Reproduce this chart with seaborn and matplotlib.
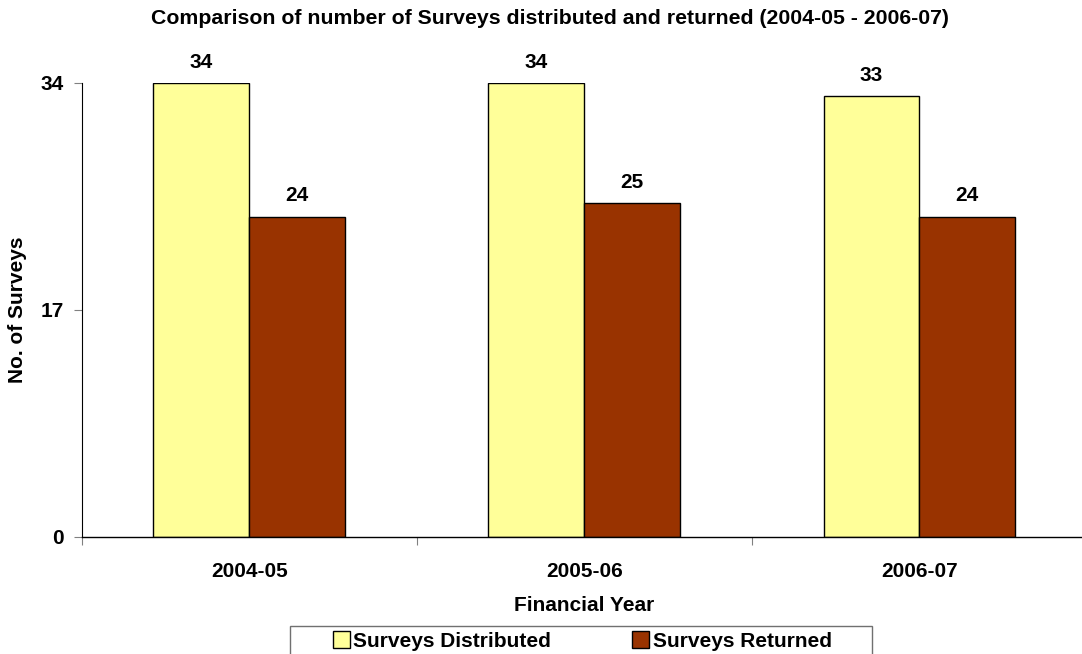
import matplotlib
matplotlib.use("Agg")
import matplotlib.pyplot as plt
from matplotlib.ticker import FixedLocator
from matplotlib.patches import Rectangle
import seaborn as sns
import pandas as pd

years = ["2004-05", "2005-06", "2006-07"]
distributed = [34, 34, 33]
returned = [24, 25, 24]
series_names = ["Surveys Distributed", "Surveys Returned"]
colors = ["#FFFF99", "#993300"]

df = pd.DataFrame({
    "Financial Year": years * 2,
    "Count": distributed + returned,
    "Series": [series_names[0]] * 3 + [series_names[1]] * 3,
})

sns.set_style("white")
plt.rcParams["font.family"] = ["Liberation Sans", "DejaVu Sans"]
plt.rcParams["font.weight"] = "bold"
for key in ["text.color", "axes.labelcolor", "xtick.labelcolor", "ytick.labelcolor"]:
    plt.rcParams[key] = "black"

FS = 15

fig = plt.figure(figsize=(10.82, 6.54), dpi=100)
ax = fig.add_axes([0.0755, 0.1789, 0.929, 0.6942])

sns.barplot(data=df, x="Financial Year", y="Count", hue="Series",
            palette=colors, width=0.572, edgecolor="black", linewidth=1.0,
            saturation=1, ax=ax, legend=True)

for cont in ax.containers:
    ax.bar_label(cont, labels=[f"{int(v)}" for v in cont.datavalues],
                 padding=8, fontsize=FS, fontweight="bold", color="black")

ax.set_xlim(-0.5, 2.5)
ax.set_ylim(0, 34)
ax.set_yticks([0, 17, 34])
ax.tick_params(axis="y", length=6, width=0.8, color="#808080", labelcolor="black",
               labelsize=FS, pad=7, direction="out", left=True)
ax.tick_params(axis="x", which="major", length=0, labelsize=FS, pad=18, labelcolor="black")
ax.xaxis.set_minor_locator(FixedLocator([-0.5, 0.5, 1.5]))
ax.tick_params(axis="x", which="minor", length=6, width=0.8, color="#808080",
               direction="out", bottom=True)
for lab in ax.get_xticklabels() + ax.get_yticklabels():
    lab.set_fontweight("bold")

for side in ["top", "right"]:
    ax.spines[side].set_visible(False)
ax.spines["left"].set_color("black")
ax.spines["bottom"].set_color("black")
ax.spines["left"].set_linewidth(0.8)
ax.spines["bottom"].set_linewidth(1.0)

ax.set_xlabel("Financial Year", fontsize=FS, fontweight="bold", labelpad=11)
ax.set_ylabel("No. of Surveys", fontsize=FS, fontweight="bold")
ax.yaxis.set_label_coords(-0.0635, 0.5)
ax.yaxis.label.set_va("center")

fig.text(0.508, 0.972, "Comparison of number of Surveys distributed and returned (2004-05 - 2006-07)",
         ha="center", va="center", fontsize=15.3, fontweight="bold")

handles, labels = ax.get_legend_handles_labels()
ax.get_legend().remove()
fig.legend(handles, labels, loc="center left", bbox_to_anchor=(333 / 1082, 0.0199),
           ncol=2, frameon=False, prop={"weight": "bold", "size": FS},
           handlelength=0.82, handleheight=0.82, handletextpad=0.15,
           columnspacing=3.9, borderpad=0, borderaxespad=0)

# legend box
fig.add_artist(Rectangle((290 / 1082, -0.02), 582 / 1082, (654 - 626) / 654 + 0.02,
                         transform=fig.transFigure, fill=False,
                         edgecolor="#707070", linewidth=1.0))

fig.savefig("out.png", dpi=100)
